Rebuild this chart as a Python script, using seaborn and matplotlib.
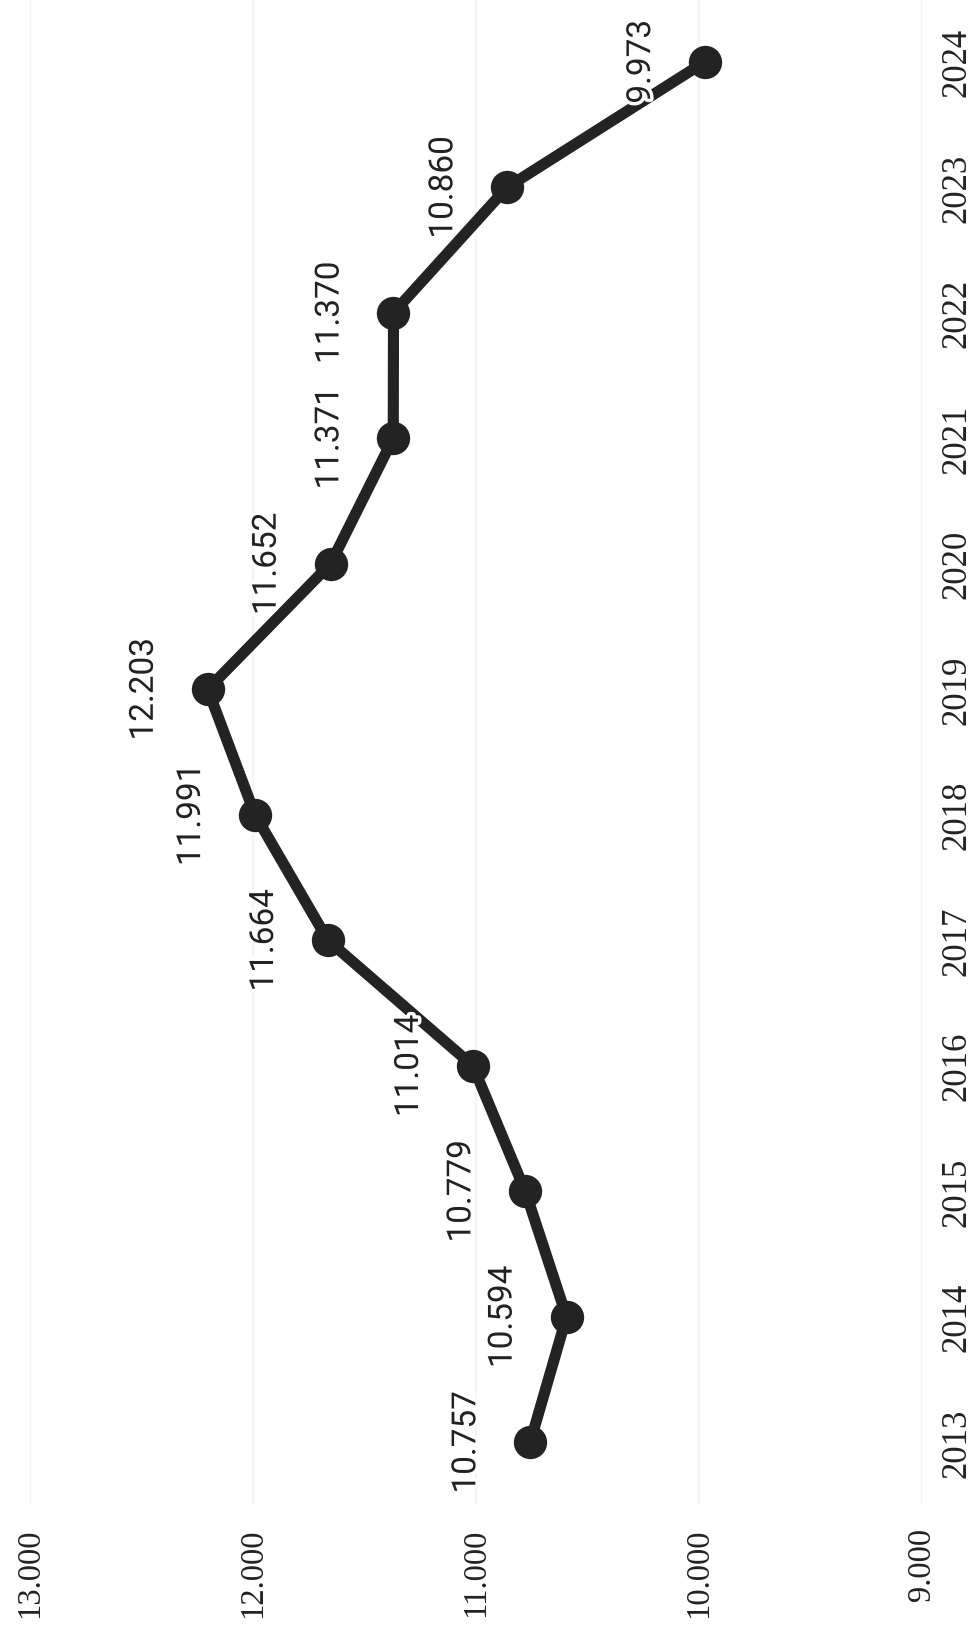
import matplotlib
matplotlib.use("Agg")
import matplotlib.pyplot as plt
import matplotlib.patheffects as pe
import pandas as pd
import seaborn as sns

# Yearly totals
years = [2013, 2014, 2015, 2016, 2017, 2018, 2019, 2020, 2021, 2022, 2023, 2024]
values = [10757, 10594, 10779, 11014, 11664, 11991, 12203, 11652, 11371, 11370, 10860, 9973]
value_ticks = [9000, 10000, 11000, 12000, 13000]

def fmt(v):
    return f"{v:,}".replace(",", ".")

sns.set_theme(style="white")
plt.rcParams["font.family"] = ["Roboto", "DejaVu Sans"]

df = pd.DataFrame({"year": years, "value": values})

fig = plt.figure(figsize=(9.73, 16.33), dpi=100)
W, H = 973, 1633
ax = fig.add_axes([30 / W, (H - 1506) / H, (922 - 30) / W, 1506 / H])

line_color = "#232323"
sns.lineplot(data=df, x="value", y="year", orient="y", sort=True, ax=ax,
             color=line_color, linewidth=8, marker="o", markersize=24,
             markeredgewidth=0, zorder=3)

# value axis runs right-to-left, years run upward
ax.set_xlim(13000, 9000)
ax.set_ylim(2012.5, 2024.5)

ax.set_xticks(value_ticks)
ax.set_xticklabels([fmt(v) for v in value_ticks], rotation=90,
                   fontsize=23.5, family="Liberation Serif", color="#222222")
ax.tick_params(axis="x", length=0, pad=16)

ax.yaxis.tick_right()
ax.set_yticks(years)
ax.set_yticklabels([str(y) for y in years], rotation=90, fontsize=25,
                   family="Liberation Serif", color="#222222", va="center")
ax.tick_params(axis="y", length=0, pad=13)

for x in value_ticks:
    ax.axvline(x, color="#f4f4f4", linewidth=1.5, zorder=0)

for s in ax.spines.values():
    s.set_visible(False)
ax.set_xlabel("")
ax.set_ylabel("")
ax.grid(False)

for y, v in zip(years, values):
    ax.annotate(fmt(v), xy=(v, y), xytext=(-46, 0), textcoords="offset points",
                rotation=90, ha="center", va="center", fontsize=24,
                color="#222222", zorder=5,
                path_effects=[pe.withStroke(linewidth=5, foreground="white")])

fig.savefig("out.png", dpi=100, facecolor="white")
